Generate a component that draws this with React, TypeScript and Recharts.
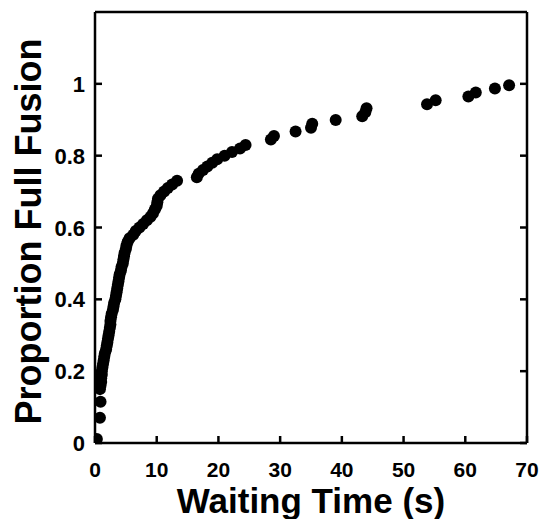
import { ScatterChart, Scatter, XAxis, YAxis } from 'recharts';

// waiting time (s) of each event
const waitTimes = [
  0.2, 0.3, 0.8, 0.9, 0.8, 0.9, 1.0, 1.0, 1.1, 1.1, 1.2, 1.3, 1.4, 1.5, 1.6, 1.8,
  1.9, 2.0, 2.1, 2.2, 2.3, 2.4, 2.5, 2.5, 2.6, 2.7, 2.9, 3.0, 3.1, 3.3, 3.4, 3.5,
  3.6, 3.7, 3.8, 3.9, 4.0, 4.2, 4.3, 4.5, 4.6, 4.7, 4.8, 5.0, 5.1, 5.3, 5.6, 6.2,
  6.6, 7.2, 7.8, 8.4, 9.0, 9.4, 9.7, 10.0, 10.1, 10.2, 10.6, 11.2, 11.8, 12.5, 13.3,
  16.5, 16.8, 17.5, 18.2, 19.0, 19.8, 21.0, 22.2, 23.5, 24.4, 28.5, 29.0, 32.5,
  35.0, 35.2, 39.0, 43.3, 43.8, 44.0, 53.8, 55.2, 60.5, 61.7, 64.8, 67.1,
];

// cumulative proportion reaching full fusion
const proportions = [
  0.0, 0.011, 0.07, 0.115, 0.15, 0.16, 0.17, 0.18, 0.19, 0.2, 0.21, 0.22, 0.23, 0.24,
  0.25, 0.26, 0.27, 0.28, 0.29, 0.3, 0.31, 0.32, 0.33, 0.34, 0.35, 0.36, 0.37, 0.38,
  0.39, 0.4, 0.41, 0.42, 0.43, 0.44, 0.45, 0.46, 0.47, 0.48, 0.49, 0.5, 0.51, 0.52,
  0.53, 0.54, 0.55, 0.56, 0.57, 0.58, 0.59, 0.6, 0.61, 0.62, 0.63, 0.64, 0.65, 0.66,
  0.67, 0.68, 0.69, 0.7, 0.71, 0.72, 0.73, 0.74, 0.75, 0.76, 0.77, 0.78, 0.79, 0.8,
  0.81, 0.82, 0.83, 0.845, 0.855, 0.867, 0.878, 0.889, 0.899, 0.91, 0.921, 0.932,
  0.943, 0.954, 0.965, 0.976, 0.987, 0.996,
];

const xTicks = [0, 10, 20, 30, 40, 50, 60, 70];
const xTopTicks = [10, 20, 30, 40, 50, 60];
const yTicks = [0, 0.2, 0.4, 0.6, 0.8, 1];

const data = waitTimes.map((t, i) => ({ t, p: proportions[i] }));

const font = "'Liberation Sans', Arial, sans-serif";
const line = { stroke: '#000', strokeWidth: 2.5 };
const TICK = 7;

// inward tick marks drawn by hand, recharts only draws them outward
const BottomTick = (props: any) => {
  const { x, y, payload } = props;
  const axisY = y - 19;
  return (
    <g>
      <line x1={x} x2={x} y1={axisY} y2={axisY - TICK} stroke="#000" strokeWidth={2.5} />
      <text x={x} y={y + 15} textAnchor="middle" fontSize={21} fontWeight="bold" fontFamily={font} fill="#000">
        {payload.value}
      </text>
    </g>
  );
};

const TopTick = (props: any) => {
  const { x, y } = props;
  return <line x1={x} x2={x} y1={y} y2={y + TICK} stroke="#000" strokeWidth={2.5} />;
};

const LeftTick = (props: any) => {
  const { x, y, payload } = props;
  const axisX = x + 10;
  return (
    <g>
      <line x1={axisX} x2={axisX + TICK} y1={y} y2={y} stroke="#000" strokeWidth={2.5} />
      <text x={x} y={y + 8} textAnchor="end" fontSize={22} fontWeight="bold" fontFamily={font} fill="#000">
        {payload.value}
      </text>
    </g>
  );
};

const RightTick = (props: any) => {
  const { x, y } = props;
  return <line x1={x} x2={x - TICK} y1={y} y2={y} stroke="#000" strokeWidth={2.5} />;
};

const Dot = (props: any) => <circle cx={props.cx} cy={props.cy} r={6} fill="#000" />;

export default function App() {
  return (
    <div style={{ position: 'absolute', left: 0, top: 0, background: '#fff' }}>
      <ScatterChart width={543} height={519} margin={{ top: 11, right: 15, bottom: 0, left: 15 }}>
        <XAxis
          dataKey="t"
          type="number"
          domain={[0, 70]}
          ticks={xTicks}
          allowDataOverflow
          height={76}
          axisLine={line}
          tickLine={false}
          tickSize={0}
          tickMargin={19}
          tick={BottomTick}
          label={{
            content: ({ viewBox }: any) => (
              <text
                x={viewBox.x + viewBox.width / 2}
                y={viewBox.y + 70}
                textAnchor="middle"
                fontSize={35}
                fontWeight="bold"
                fontFamily={font}
                fill="#000"
              >
                Waiting Time (s)
              </text>
            ),
          }}
        />
        <XAxis
          xAxisId="top"
          orientation="top"
          type="number"
          domain={[0, 70]}
          ticks={xTopTicks}
          allowDataOverflow
          height={1}
          axisLine={line}
          tickLine={false}
          tickSize={0}
          tickMargin={0}
          tick={TopTick}
        />
        <YAxis
          dataKey="p"
          type="number"
          domain={[0, 1.2]}
          ticks={yTicks}
          allowDataOverflow
          width={80}
          axisLine={line}
          tickLine={false}
          tickSize={0}
          tickMargin={10}
          tick={LeftTick}
          label={{
            content: ({ viewBox }: any) => {
              const cx = viewBox.x + 26;
              const cy = viewBox.y + viewBox.height / 2 + 4;
              return (
                <text
                  x={cx}
                  y={cy}
                  transform={`rotate(-90 ${cx} ${cy})`}
                  textAnchor="middle"
                  fontSize={36}
                  fontWeight="bold"
                  fontFamily={font}
                  fill="#000"
                >
                  Proportion Full Fusion
                </text>
              );
            },
          }}
        />
        <YAxis
          yAxisId="right"
          orientation="right"
          type="number"
          domain={[0, 1.2]}
          ticks={yTicks}
          allowDataOverflow
          width={1}
          axisLine={line}
          tickLine={false}
          tickSize={0}
          tickMargin={0}
          tick={RightTick}
        />
        <Scatter data={data} shape={Dot} isAnimationActive={false} />
      </ScatterChart>
    </div>
  );
}
